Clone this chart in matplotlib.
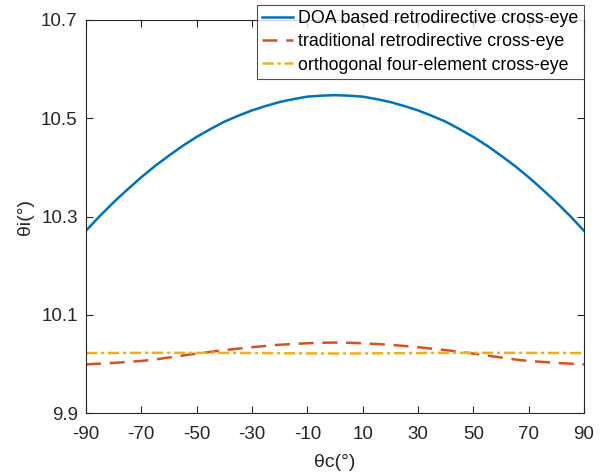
import matplotlib
matplotlib.use('Agg')
import matplotlib.pyplot as plt

plt.rcParams['font.family'] = ['Liberation Sans', 'DejaVu Sans']
plt.rcParams['axes.unicode_minus'] = False

# scan angle (deg), -90..90 in 5 deg steps
theta_c = list(range(-90, 91, 5))

# values from -90 up to 0 (curves are symmetric)
doa_half = [10.271, 10.301, 10.329, 10.355, 10.380, 10.403, 10.424, 10.444,
            10.462, 10.478, 10.493, 10.505, 10.516, 10.525, 10.533, 10.539,
            10.544, 10.546, 10.547]
trad_half = [9.999, 10.0005, 10.002, 10.004, 10.006, 10.009, 10.013, 10.017,
             10.021, 10.0245, 10.028, 10.031, 10.034, 10.0365, 10.039,
             10.0405, 10.042, 10.043, 10.0435]
orth_half = [10.022, 10.0221, 10.0222, 10.0223, 10.0224, 10.0225, 10.0225,
             10.0225, 10.0225, 10.0225, 10.0224, 10.0223, 10.0221, 10.0219,
             10.0217, 10.0215, 10.0213, 10.0212, 10.0211]

doa = doa_half + doa_half[-2::-1]
trad = trad_half + trad_half[-2::-1]
orth = orth_half + orth_half[-2::-1]

labels = ['DOA based retrodirective cross-eye',
          'traditional retrodirective cross-eye',
          'orthogonal four-element cross-eye']

fig = plt.figure(figsize=(6.08, 4.75), dpi=100)
ax = fig.add_axes([0.1414, 0.1305, 0.8191, 0.8274])

ax.plot(theta_c, doa, color='#0072BD', lw=1.8, label=labels[0])
ax.plot(theta_c, trad, color='#D95319', lw=1.8, ls=(0, (6, 3.5)), label=labels[1])
ax.plot(theta_c, orth, color='#EDB120', lw=1.8, ls=(0, (4.5, 1.5, 1.3, 1.5)), label=labels[2])

ax.set_xlim(-90, 90)
ax.set_ylim(9.9, 10.7)
ax.set_xticks(range(-90, 91, 20))
ax.set_yticks([9.9, 10.1, 10.3, 10.5, 10.7])
ax.set_yticklabels(['9.9', '10.1', '10.3', '10.5', '10.7'])
ax.tick_params(direction='in', top=True, right=True, labelsize=13.5,
               colors='#262626', length=5)
ax.tick_params(axis='x', pad=9)
ax.tick_params(axis='y', pad=6)
for s in ax.spines.values():
    s.set_color('#262626')
    s.set_linewidth(0.8)

ax.set_xlabel('θc(°)', fontsize=14, color='#262626', labelpad=8)
ax.set_ylabel('θi(°)', fontsize=14, color='#262626', labelpad=5)

leg = ax.legend(loc='upper right', bbox_to_anchor=(0.9605, 0.99),
                bbox_transform=fig.transFigure, fontsize=12.8,
                frameon=True, fancybox=False, handlelength=1.75,
                handletextpad=0.3, borderpad=0.3, labelspacing=0.35,
                borderaxespad=0)
leg.get_frame().set_edgecolor('#262626')
leg.get_frame().set_linewidth(0.8)

fig.savefig('out.png', dpi=100)
